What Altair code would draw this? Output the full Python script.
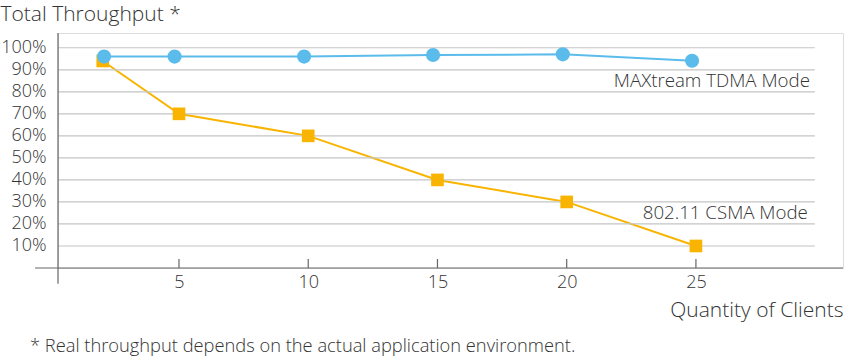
import altair as alt
import pandas as pd

# ---- data ----
tdma_x = [2.1, 4.83, 9.84, 14.83, 19.85, 24.85]
tdma_y = [96.0, 96.0, 96.0, 96.7, 97.0, 94.1]
csma_x = [2.05, 5, 10, 15, 20, 25]
csma_y = [94, 70, 60, 40, 30, 10]
y_ticks = [10, 20, 30, 40, 50, 60, 70, 80, 90, 100]
x_ticks = [5, 10, 15, 20, 25]
label_text = ["MAXtream TDMA Mode", "802.11 CSMA Mode"]
label_x = [29.41, 29.33]
label_y = [85.1, 24.9]

FONT = "Open Sans"
W = 300
TXT = "#333333"
BLUE = "#5bbcec"
ORANGE = "#f8b400"

X_DOM = [0.319, 30.69]
Y_DOM = [0, 106.7]

xs = alt.Scale(domain=X_DOM, nice=False, zero=False)
ys = alt.Scale(domain=Y_DOM, nice=False, zero=False)

tdma = pd.DataFrame({"x": tdma_x, "y": tdma_y})
csma = pd.DataFrame({"x": csma_x, "y": csma_y})
grid = pd.DataFrame({"y": y_ticks})
ticks = pd.DataFrame({"x": x_ticks})
labels = pd.DataFrame({"t": label_text, "x": label_x, "y": label_y})
one = pd.DataFrame({"k": [0]})

x_axis = alt.Axis(values=x_ticks, domain=False, ticks=False, grid=False,
                  labelFont=FONT, labelFontSize=18, labelFontWeight=W, labelColor=TXT,
                  labelPadding=5, labelOverlap=False,
                  title="Quantity of Clients", titleFont=FONT, titleFontSize=21,
                  titleFontWeight=W, titleColor=TXT, titleAlign="right",
                  titleAnchor="end", titleX=785, titleY=42, titleBaseline="middle")
y_axis = alt.Axis(values=y_ticks, domain=False, ticks=False, grid=False,
                  labelExpr="datum.value + '%'", labelOverlap=False, labelBound=False,
                  labelFont=FONT, labelFontSize=18, labelFontWeight=W, labelColor=TXT,
                  labelPadding=12,
                  title="Total Throughput *", titleFont=FONT, titleFontSize=21,
                  titleFontWeight=W, titleColor=TXT, titleAngle=0,
                  titleAlign="left", titleX=-58, titleY=-19, titleBaseline="middle")

def px(f="x"):
    return alt.X(f + ":Q", scale=xs, axis=x_axis)

def py(f="y"):
    return alt.Y(f + ":Q", scale=ys, axis=y_axis)

grid_rules = alt.Chart(grid).transform_calculate(
    x="0.319", x2="29.6"
).mark_rule(color="#c4c4c4", strokeWidth=1.2).encode(
    y=py(), x=px(), x2="x2:Q",
)

x_line = alt.Chart(one).transform_calculate(
    x="-0.57", x2="30.69", y="0"
).mark_rule(color="#666666", strokeWidth=1.2).encode(
    y=py(), x=px(), x2="x2:Q",
)

y_line = alt.Chart(one).transform_calculate(
    x="0.319", y="-7.2", y2="106.7"
).mark_rule(color="#666666", strokeWidth=1.2).encode(
    x=px(), y=py(), y2="y2:Q",
)

tick_rules = alt.Chart(ticks).transform_calculate(
    y="0", y2="4.1"
).mark_rule(color="#666666", strokeWidth=1.2).encode(
    x=px(), y=py(), y2="y2:Q",
)

csma_line = alt.Chart(csma).mark_line(color=ORANGE, strokeWidth=2).encode(x=px(), y=py())
csma_pts = alt.Chart(csma).mark_point(shape="square", filled=True, color=ORANGE, size=160, opacity=1).encode(
    x=px(), y=py())
tdma_line = alt.Chart(tdma).mark_line(color=BLUE, strokeWidth=2).encode(x=px(), y=py())
tdma_pts = alt.Chart(tdma).mark_point(shape="circle", filled=True, color=BLUE, size=200, opacity=1).encode(
    x=px(), y=py())

label_marks = alt.Chart(labels).mark_text(
    font=FONT, fontSize=18.7, fontWeight=W, color=TXT, align="right", baseline="middle"
).encode(x=px(), y=py(), text="t:N")

chart = alt.layer(
    csma_line, grid_rules, x_line, y_line, tick_rules,
    tdma_line, csma_pts, tdma_pts, label_marks,
).properties(
    width=785, height=235,
    padding={"left": 58, "top": 33, "right": 1, "bottom": 88},
    autosize=alt.AutoSizeParams(type="none"),
    title=alt.TitleParams(
        text="* Real throughput depends on the actual application environment.",
        orient="bottom", anchor="start", frame="group", dx=-28, offset=18,
        font=FONT, fontSize=18.3, fontWeight=W, color=TXT,
    ),
).configure_view(stroke=None).configure_axis(labelOverlap=False).configure(background="white")

chart.save("out.html", embed_options={"renderer": "svg", "actions": False})
